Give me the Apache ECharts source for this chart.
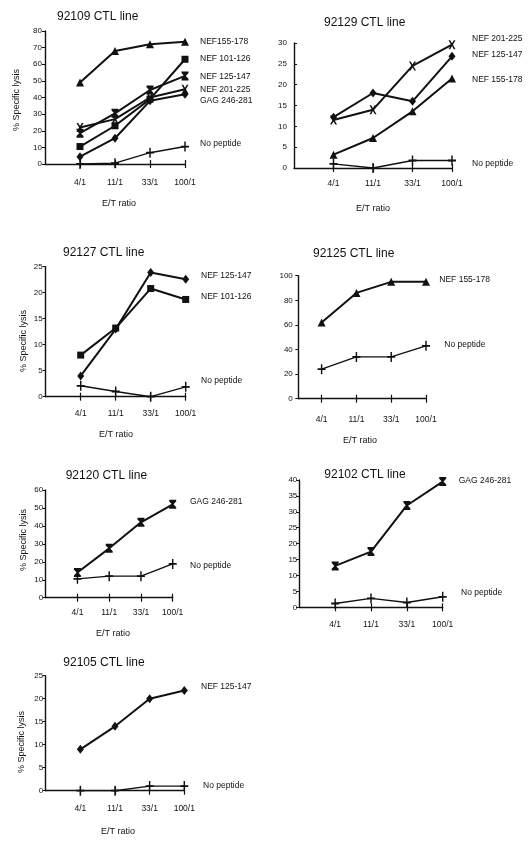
<!DOCTYPE html>
<html>
<head>
<meta charset="utf-8">
<script src="https://cdn.jsdelivr.net/npm/echarts@6/dist/echarts.min.js"></script>
<style>
html,body{margin:0;padding:0;background:#fff;}
#chart{width:532px;height:843px;}
</style>
</head>
<body>
<div id="chart"></div>
<script>
// ---------- DATA ----------
const xLabels = ['4/1', '11/1', '33/1', '100/1'];
const xPos = [1, 2, 3, 4];

// Panel 1: 92109 CTL line
const p1Title = '92109 CTL line';
const p1Yticks = [0, 80, 10];
const p1Nef155 = [49, 68, 72, 73.5];
const p1Nef101 = [10.5, 23, 39, 63];
const p1Nef125 = [18.5, 30.5, 44.5, 53];
const p1Nef201 = [22, 27, 40, 45];
const p1Gag246 = [4.4, 15.5, 38, 42];
const p1NoPep = [0, 0.5, 6.8, 10.5];

// Panel 2: 92129 CTL line
const p2Title = '92129 CTL line';
const p2Yticks = [0, 30, 5];
const p2Nef201 = [11.5, 14, 24.5, 29.6];
const p2Nef125 = [12.2, 18, 16, 26.8];
const p2Nef155 = [3.2, 7.2, 13.6, 21.5];
const p2NoPep = [1, 0, 1.8, 1.8];

// Panel 3: 92127 CTL line
const p3Title = '92127 CTL line';
const p3Yticks = [0, 25, 5];
const p3Nef125 = [4, 13, 23.9, 22.6];
const p3Nef101 = [8, 13.2, 20.8, 18.7];
const p3NoPep = [2.1, 1, 0, 1.9];

// Panel 4: 92125 CTL line
const p4Title = '92125 CTL line';
const p4Yticks = [0, 100, 20];
const p4Nef155 = [62, 86, 95, 95];
const p4NoPep = [24, 34, 34, 43];

// Panel 5: 92120 CTL line
const p5Title = '92120 CTL line';
const p5Yticks = [0, 60, 10];
const p5Gag246 = [14, 27.5, 42, 52];
const p5NoPep = [10.5, 12, 12, 18.8];

// Panel 6: 92102 CTL line
const p6Title = '92102 CTL line';
const p6Yticks = [0, 40, 5];
const p6Gag246 = [13, 17.5, 32, 39.5];
const p6NoPep = [1.2, 2.8, 1.5, 3.3];

// Panel 7: 92105 CTL line
const p7Title = '92105 CTL line';
const p7Yticks = [0, 25, 5];
const p7Nef125 = [9, 14, 20, 21.8];
const p7NoPep = [0, 0, 1, 1];

// ---------- STYLE / LAYOUT ----------
const FONT = '"Liberation Sans", Arial, Helvetica, sans-serif';
const INK = '#111';
const SYM = {
  tri: 'triangle',
  sq: 'rect',
  dia: 'diamond',
  x: 'path://M0,0 L2.4,0 L5,3.4 L7.6,0 L10,0 L6.3,5 L10,10 L7.6,10 L5,6.6 L2.4,10 L0,10 L3.7,5 Z',
  hg: 'path://M0,0 L10,0 L10,1.8 L6.2,5 L10,8.2 L10,10 L0,10 L0,8.2 L3.8,5 L0,1.8 Z',
  plus: 'path://M4.1,0 L5.9,0 L5.9,4.1 L10,4.1 L10,5.9 L5.9,5.9 L5.9,10 L4.1,10 L4.1,5.9 L0,5.9 L0,4.1 L4.1,4.1 Z'
};
const SYMSIZE = { tri: 8, sq: 7, dia: [7, 9], x: [7, 9], hg: [7, 9], plus: [8, 10] };

const panels = [
  { title: p1Title, yt: p1Yticks, grid: { left: 45, top: 31, width: 140, height: 133 }, xmin: 0,
    ylm: 3, yin: false, xlm: 14,
    series: [[p1Nef155, 'tri'], [p1Nef101, 'sq'], [p1Nef125, 'hg'], [p1Nef201, 'x'], [p1Gag246, 'dia'], [p1NoPep, 'plus']],
    titlePos: [57, 17], yname: [17, 100], etr: [119, 204],
    legend: [['NEF155-178', 200, 42], ['NEF 101-126', 200, 59], ['NEF 125-147', 200, 77], ['NEF 201-225', 200, 90], ['GAG 246-281', 200, 101], ['No peptide', 200, 144]] },
  { title: p2Title, yt: p2Yticks, grid: { left: 294, top: 43, width: 158, height: 125 }, xmin: 0,
    ylm: 7, yin: true, xlm: 11.5,
    series: [[p2Nef201, 'x'], [p2Nef125, 'dia'], [p2Nef155, 'tri'], [p2NoPep, 'plus']],
    titlePos: [324, 23], yname: null, etr: [373, 209],
    legend: [['NEF 201-225', 472, 39], ['NEF 125-147', 472, 55], ['NEF 155-178', 472, 80], ['No peptide', 472, 164]] },
  { title: p3Title, yt: p3Yticks, grid: { left: 45.7, top: 266.7, width: 140, height: 130 }, xmin: 0,
    ylm: 3, yin: false, xlm: 12,
    series: [[p3Nef125, 'dia'], [p3Nef101, 'sq'], [p3NoPep, 'plus']],
    titlePos: [63, 252.7], yname: [24, 341], etr: [116, 435],
    legend: [['NEF 125-147', 201, 275.7], ['NEF 101-126', 201, 296.7], ['No peptide', 201, 381]] },
  { title: p4Title, yt: p4Yticks, grid: { left: 298.3, top: 275.7, width: 127.7, height: 123 }, xmin: 0.33,
    ylm: 5.5, yin: false, xlm: 16,
    series: [[p4Nef155, 'tri'], [p4NoPep, 'plus']],
    titlePos: [313, 254], yname: null, etr: [360, 441],
    legend: [['NEF 155-178', 439.3, 280], ['No peptide', 444.3, 344.3]] },
  { title: p5Title, yt: p5Yticks, grid: { left: 45.7, top: 490, width: 127, height: 107.7 }, xmin: 0,
    ylm: 2.5, yin: false, xlm: 10.5,
    series: [[p5Gag246, 'hg'], [p5NoPep, 'plus']],
    titlePos: [65.7, 476], yname: [24, 540], etr: [113, 634],
    legend: [['GAG 246-281', 190, 501.7], ['No peptide', 190, 565.7]] },
  { title: p6Title, yt: p6Yticks, grid: { left: 299.3, top: 480, width: 143.4, height: 127.3 }, xmin: 0,
    ylm: 2, yin: false, xlm: 13,
    series: [[p6Gag246, 'hg'], [p6NoPep, 'plus']],
    titlePos: [324.3, 475], yname: null, etr: null,
    legend: [['GAG 246-281', 458.7, 481], ['No peptide', 461, 592.7]] },
  { title: p7Title, yt: p7Yticks, grid: { left: 45.7, top: 675.7, width: 138.6, height: 115 }, xmin: 0,
    ylm: 2.5, yin: false, xlm: 13,
    series: [[p7Nef125, 'dia'], [p7NoPep, 'plus']],
    titlePos: [63.3, 662.3], yname: [21.7, 742], etr: [118, 831.7],
    legend: [['NEF 125-147', 201, 686.7], ['No peptide', 203, 786]] }
];

// ---------- BUILD OPTION ----------
const grids = [], xAxes = [], yAxes = [], series = [], graphics = [];
panels.forEach((p, i) => {
  grids.push(Object.assign({ containLabel: false }, p.grid));
  const common = { type: 'value', gridIndex: i, position: 'bottom', min: p.xmin, max: 4, splitLine: { show: false } };
  xAxes.push(Object.assign({}, common, {
    axisLine: { lineStyle: { color: INK, width: 1.4 } },
    axisTick: { show: true, length: 4, customValues: xPos, lineStyle: { color: INK, width: 1.2 } },
    axisLabel: { show: true, customValues: xPos, margin: p.xlm, fontFamily: FONT, fontSize: 8.5, color: INK,
      formatter: v => xLabels[Math.round(v) - 1] || '' }
  }));
  xAxes.push(Object.assign({}, common, {
    axisLine: { show: false },
    axisTick: { show: true, inside: true, length: 4, customValues: xPos, lineStyle: { color: INK, width: 1.2 } },
    axisLabel: { show: false }
  }));
  yAxes.push({
    type: 'value', gridIndex: i, min: p.yt[0], max: p.yt[1], interval: p.yt[2],
    splitLine: { show: false },
    axisLine: { show: true, lineStyle: { color: INK, width: 1.4 } },
    axisTick: { show: true, inside: p.yin, length: 3, lineStyle: { color: INK, width: 1 } },
    axisLabel: { margin: p.ylm, fontFamily: FONT, fontSize: 8, color: INK }
  });
  p.series.forEach(([vals, sym]) => {
    series.push({
      type: 'line', xAxisIndex: 2 * i, yAxisIndex: i,
      data: vals.map((v, k) => [xPos[k], v]),
      symbol: SYM[sym], symbolSize: SYMSIZE[sym], showSymbol: true,
      itemStyle: { color: INK }, lineStyle: { color: INK, width: sym === 'plus' ? 1.4 : 2 },
      animation: false, z: 3
    });
  });
  graphics.push({ type: 'text', x: p.titlePos[0], y: p.titlePos[1],
    style: { text: p.title, font: '12px ' + FONT, fill: INK, align: 'left', verticalAlign: 'middle' } });
  if (p.yname) graphics.push({ type: 'text', x: p.yname[0], y: p.yname[1], rotation: Math.PI / 2,
    style: { text: '% Specific lysis', font: '9px ' + FONT, fill: INK, align: 'center', verticalAlign: 'middle' } });
  if (p.etr) graphics.push({ type: 'text', x: p.etr[0], y: p.etr[1],
    style: { text: 'E/T ratio', font: '9px ' + FONT, fill: INK, align: 'center', verticalAlign: 'middle' } });
  p.legend.forEach(([t, x, y]) => graphics.push({ type: 'text', x: x, y: y,
    style: { text: t, font: '8.5px ' + FONT, fill: INK, align: 'left', verticalAlign: 'middle' } }));
});

const chart = echarts.init(document.getElementById('chart'), null, { renderer: 'canvas' });
chart.setOption({
  backgroundColor: '#ffffff',
  animation: false,
  grid: grids, xAxis: xAxes, yAxis: yAxes, series: series,
  graphic: { elements: graphics }
});
</script>
</body>
</html>
